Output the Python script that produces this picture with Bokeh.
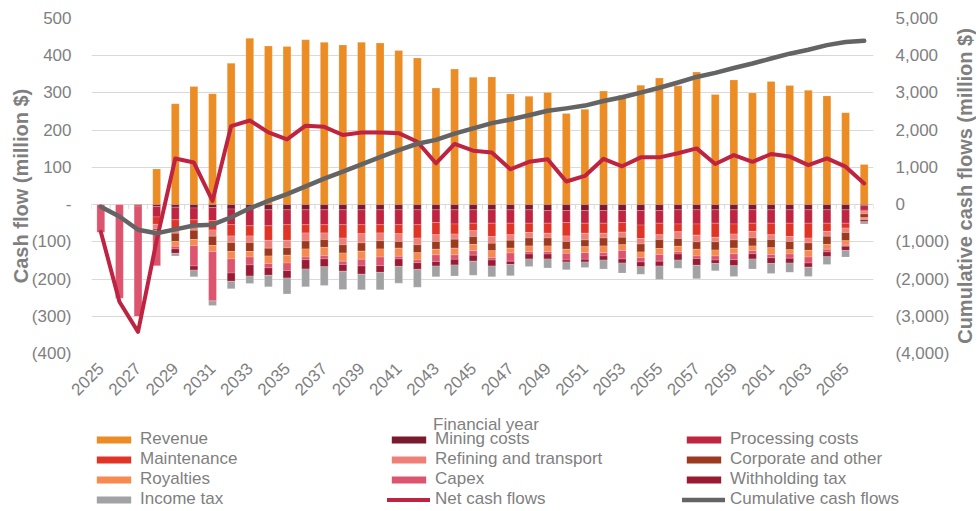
import math
from bokeh.plotting import figure
from bokeh.layouts import column, row
from bokeh.models import (Range1d, LinearAxis, FixedTicker, CustomJSTickFormatter,
                          Legend, LegendItem, ColumnDataSource, Label)
from bokeh.embed import file_html
from bokeh.resources import INLINE

# ---------------- data (million $) ----------------
years = [2025, 2026, 2027, 2028, 2029, 2030, 2031, 2032, 2033, 2034,
         2035, 2036, 2037, 2038, 2039, 2040, 2041, 2042, 2043, 2044,
         2045, 2046, 2047, 2048, 2049, 2050, 2051, 2052, 2053, 2054,
         2055, 2056, 2057, 2058, 2059, 2060, 2061, 2062, 2063, 2064,
         2065, 2066]
year_ticks = [2025, 2027, 2029, 2031, 2033, 2035, 2037, 2039, 2041, 2043, 2045,
              2047, 2049, 2051, 2053, 2055, 2057, 2059, 2061, 2063, 2065]
left_ticks = [-400, -300, -200, -100, 0, 100, 200, 300, 400, 500]
right_ticks = [-4000, -3000, -2000, -1000, 0, 1000, 2000, 3000, 4000, 5000]

revenue = [0, 0, 0, 96, 271, 317, 298, 380, 447, 426,
           425, 443, 436, 429, 436, 434, 414, 394, 313, 364,
           342, 343, 297, 291, 301, 245, 256, 305, 294, 321,
           340, 319, 356, 296, 335, 300, 331, 320, 307, 292,
           247, 108]
# cost components (shown as negative bars), stacked from zero downwards
mining_costs = [0, 0, 0, 5, 7, 9, 8, 12, 12, 14,
                14, 14, 14, 14, 14, 14, 14, 14, 14, 14,
                14, 14, 14, 14, 16, 16, 16, 16, 16, 16,
                16, 14, 14, 14, 14, 14, 14, 14, 14, 14,
                14, 3]
processing_costs = [0, 0, 0, 28, 34, 32, 35, 42, 45, 43,
                    40, 40, 40, 40, 40, 40, 40, 40, 34, 38,
                    36, 36, 36, 36, 34, 32, 34, 34, 32, 39,
                    34, 38, 38, 36, 38, 36, 36, 36, 36, 36,
                    36, 12]
maintenance = [0, 0, 0, 20, 27, 15, 25, 30, 27, 39,
               42, 22, 22, 36, 24, 22, 24, 36, 33, 27,
               20, 36, 31, 25, 27, 36, 27, 27, 26, 36,
               31, 21, 30, 38, 27, 22, 31, 36, 40, 22,
               13, 4]
refining_transport = [0, 0, 0, 12, 9, 13, 17, 18, 18, 21,
                      20, 22, 18, 18, 25, 21, 21, 18, 18, 14,
                      16, 18, 15, 15, 13, 15, 18, 13, 14, 15,
                      13, 18, 18, 12, 16, 18, 13, 13, 13, 13,
                      12, 6]
corporate_other = [0, 0, 4, 4, 22, 25, 25, 24, 24, 21,
                   20, 21, 21, 22, 22, 22, 18, 21, 21, 24,
                   21, 20, 21, 21, 21, 21, 18, 21, 20, 21,
                   24, 21, 20, 22, 22, 21, 22, 22, 20, 22,
                   22, 10]
royalties = [0, 0, 0, 6, 13, 16, 16, 20, 15, 20,
             21, 22, 22, 22, 22, 22, 22, 20, 15, 18,
             17, 18, 13, 15, 15, 11, 16, 18, 15, 15,
             16, 15, 18, 16, 15, 13, 18, 12, 18, 13,
             12, 4]
capex = [75, 252, 297, 90, 7, 55, 133, 38, 21, 12,
         20, 7, 9, 9, 18, 23, 7, 7, 18, 12,
         12, 7, 22, 7, 7, 18, 18, 9, 23, 12,
         18, 6, 7, 11, 16, 8, 9, 11, 16, 7,
         3, 2]
withholding_tax = [0, 0, 0, 0, 12, 11, 0, 22, 30, 20,
                   20, 25, 21, 18, 22, 18, 20, 18, 12, 15,
                   16, 16, 9, 13, 13, 5, 7, 11, 11, 13,
                   13, 16, 18, 9, 16, 14, 15, 13, 11, 13,
                   11, 5]
income_tax = [0, 0, 0, 0, 7, 18, 12, 20, 20, 31,
              43, 48, 50, 49, 42, 47, 45, 48, 29, 30,
              38, 29, 30, 20, 24, 21, 15, 24, 27, 20,
              36, 22, 36, 20, 29, 27, 27, 25, 25, 21,
              18, 6]
net_cash_flows = [-73, -261, -342, -96, 124, 113, 10, 211, 226, 194,
                  175, 212, 209, 187, 194, 194, 192, 169, 111, 163,
                  145, 140, 95, 115, 122, 62, 77, 123, 103, 127,
                  127, 138, 151, 109, 133, 115, 136, 129, 106, 124,
                  102, 57]
cumulative_cash_flows = [-55, -320, -675, -770, -665, -560, -540, -340, -100, 100,
                         280, 490, 700, 885, 1080, 1275, 1465, 1635, 1740, 1905,
                         2050, 2190, 2285, 2400, 2520, 2585, 2660, 2785, 2885, 3010,
                         3140, 3280, 3430, 3540, 3670, 3790, 3925, 4055, 4160, 4285,
                         4370, 4400]

cost_series = [
    ("Mining costs", mining_costs, "#7B1A2C"),
    ("Processing costs", processing_costs, "#BF2440"),
    ("Maintenance", maintenance, "#E03427"),
    ("Refining and transport", refining_transport, "#EE8079"),
    ("Corporate and other", corporate_other, "#9C3A1F"),
    ("Royalties", royalties, "#F68A50"),
    ("Capex", capex, "#DD546F"),
    ("Withholding tax", withholding_tax, "#981B33"),
    ("Income tax", income_tax, "#A2A2A5"),
]
REV_COLOR = "#EB8C24"
NET_COLOR = "#BE2441"
CUM_COLOR = "#646464"
TXT = "#7F7F7F"
GRID = "#D9D9D9"
FONT = "Liberation Sans"

data = dict(year=years, revenue=revenue, net=net_cash_flows, cum=cumulative_cash_flows)
keys = []
for i, (name, vals, col) in enumerate(cost_series):
    k = "c%d" % i
    keys.append(k)
    data[k] = [-v for v in vals]
src = ColumnDataSource(data)

# ---------------- layout sizes ----------------
TOTAL_W = 976
LABEL_W = 24          # strip holding the right-hand axis title
MAIN_W = TOTAL_W - LABEL_W
MAIN_H = 406
LEG_H = 103
TOP = 18
FRAME_H = 335
LEFT = 91
RIGHT = 72
LEG_TOP = 23          # gap above the legend rows (holds the x axis title)

p = figure(width=MAIN_W, height=MAIN_H, output_backend="svg", toolbar_location=None,
           x_range=Range1d(2024.5, 2066.5), y_range=Range1d(-400, 500),
           min_border_left=LEFT, min_border_right=RIGHT, min_border_top=TOP,
           min_border_bottom=MAIN_H - TOP - FRAME_H)
p.outline_line_color = None
p.extra_y_ranges = {"cum": Range1d(-4000, 5000)}

p.xgrid.grid_line_color = None
p.ygrid.grid_line_color = GRID
p.ygrid.grid_line_width = 1

# bars
BW = 0.42
r_rev = p.vbar(x="year", top="revenue", bottom=0, width=BW, source=src,
               fill_color=REV_COLOR, line_color="white", line_width=0.4, line_alpha=0.5)
r_costs = p.vbar_stack(keys, x="year", width=BW, source=src,
                       fill_color=[c[2] for c in cost_series],
                       line_color="white", line_width=0.4, line_alpha=0.5)

# category tick marks on the zero axis line
bx = [y - 0.5 for y in years] + [years[-1] + 0.5]
p.segment(x0=bx, y0=[0] * len(bx), x1=bx, y1=[-12] * len(bx), line_color=GRID, line_width=1)

# lines
r_net = p.line(x="year", y="net", source=src, line_color=NET_COLOR, line_width=4,
               line_join="round", line_cap="round")
r_cum = p.line(x="year", y="cum", source=src, y_range_name="cum", line_color=CUM_COLOR,
               line_width=4.5, line_join="round", line_cap="round")

def style_axis(ax, size="17px"):
    ax.axis_line_color = None
    ax.major_tick_line_color = None
    ax.minor_tick_line_color = None
    ax.major_label_text_color = TXT
    ax.major_label_text_font = FONT
    ax.major_label_text_font_size = size
    ax.axis_label_text_color = TXT
    ax.axis_label_text_font = FONT

xa = p.xaxis[0]
style_axis(xa)
xa.ticker = FixedTicker(ticks=year_ticks)
xa.major_label_orientation = math.pi / 4
xa.major_label_standoff = 6

ya = p.yaxis[0]
style_axis(ya)
ya.ticker = FixedTicker(ticks=left_ticks)
ya.formatter = CustomJSTickFormatter(code="""
if (tick == 0) { return "-"; }
if (tick < 0) { return "(" + Math.abs(tick).toLocaleString("en-US") + ")"; }
return tick.toLocaleString("en-US");
""")
ya.major_label_standoff = 14
ya.axis_label = "Cash flow (million $)"
ya.axis_label_text_font_style = "bold"
ya.axis_label_text_font_size = "20px"
ya.axis_label_standoff = -3

ra = LinearAxis(y_range_name="cum")
style_axis(ra)
ra.ticker = FixedTicker(ticks=right_ticks)
ra.formatter = CustomJSTickFormatter(code="""
if (tick == 0) { return "0"; }
if (tick < 0) { return "(" + Math.abs(tick).toLocaleString("en-US") + ")"; }
return tick.toLocaleString("en-US");
""")
ra.major_label_standoff = 16
p.add_layout(ra, "right")

# ---------------- right-hand axis title strip (frame aligned with the chart) ----------------
rl = figure(width=LABEL_W, height=MAIN_H, output_backend="svg", toolbar_location=None,
            title=None, x_range=Range1d(0, 1), y_range=Range1d(-400, 500),
            min_border_left=0, min_border_right=0, min_border_top=TOP,
            min_border_bottom=MAIN_H - TOP - FRAME_H,
            x_axis_type=None, y_axis_type=None)
rl.outline_line_color = None
rl.xgrid.visible = False
rl.ygrid.visible = False
rl.add_layout(Label(x=0.5, y=50, text="Cumulative cash flows (million $)", angle=math.pi / 2,
                    text_align="center", text_baseline="middle",
                    text_font=FONT, text_font_size="20px", text_font_style="bold",
                    text_color=TXT))

# ---------------- legend strip: three columns (+ x axis title) ----------------
col_starts = [0, 387 - LEG_TOP, 682 - LEG_TOP]
col_widths = [col_starts[1], col_starts[2] - col_starts[1], TOTAL_W - col_starts[2]]
col_left = [92 - LEG_TOP, 0, 0]
legend_figs = []
for c in range(3):
    lf = figure(width=col_widths[c], height=LEG_H, output_backend="svg",
                toolbar_location=None, title=None,
                x_range=Range1d(0, col_widths[c] - col_left[c]), y_range=Range1d(0, LEG_H),
                min_border_left=col_left[c], min_border_right=0, min_border_top=0,
                min_border_bottom=0, x_axis_type=None, y_axis_type=None)
    lf.outline_line_color = None
    lf.xgrid.visible = False
    lf.ygrid.visible = False
    lsrc = ColumnDataSource(data)
    # legend proxies draw the same data, but outside this strip's visible range
    proxies = [("Revenue", lf.vbar(x="year", top="revenue", width=BW, source=lsrc,
                                    fill_color=REV_COLOR, line_color=None))]
    for (name, vals, colr), k in zip(cost_series, keys):
        proxies.append((name, lf.vbar(x="year", top=k, width=BW, source=lsrc,
                                      fill_color=colr, line_color=None)))
    proxies.append(("Net cash flows", lf.line(x="year", y="net", source=lsrc,
                                              line_color=NET_COLOR, line_width=4,
                                              line_cap="round")))
    proxies.append(("Cumulative cash flows", lf.line(x="year", y="cum", source=lsrc,
                                                     line_color=CUM_COLOR, line_width=4.5,
                                                     line_cap="round")))
    its = [LegendItem(label=proxies[r * 3 + c][0], renderers=[proxies[r * 3 + c][1]])
           for r in range(4)]
    lg = Legend(items=its, orientation="vertical", location="top_left",
                glyph_width=43, glyph_height=9, label_standoff=5, spacing=0,
                padding=0, margin=LEG_TOP, label_height=17,
                border_line_color=None, background_fill_alpha=0,
                label_text_font=FONT, label_text_font_size="17px", label_text_color=TXT)
    lf.add_layout(lg, "center")
    legend_figs.append(lf)

# x axis title, centred under the plot frame
frame_center = LEFT + (MAIN_W - LEFT - RIGHT) / 2.0
legend_figs[1].add_layout(Label(x=frame_center - col_starts[1], y=LEG_H - 18,
                                text="Financial year", text_align="center",
                                text_baseline="middle", text_font=FONT,
                                text_font_size="17px", text_color=TXT))

layout = column(row(p, rl, spacing=0), row(*legend_figs, spacing=0), spacing=0)
open("out.html", "w").write(file_html(layout, INLINE))
